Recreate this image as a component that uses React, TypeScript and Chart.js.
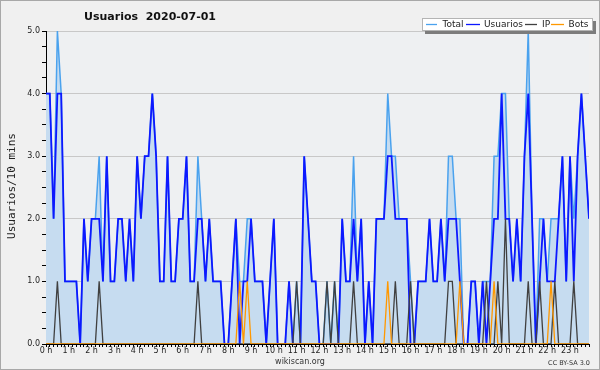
import React, { useEffect, useRef } from 'react';
import { Chart, registerables } from 'chart.js';

Chart.register(...registerables);

// Hour labels (one every 6 ten-minute slots)
const hourLabels = [
  '0 h', '1 h', '2 h', '3 h', '4 h', '5 h', '6 h', '7 h', '8 h', '9 h', '10 h', '11 h',
  '12 h', '13 h', '14 h', '15 h', '16 h', '17 h', '18 h', '19 h', '20 h', '21 h', '22 h', '23 h',
];

const chartTitle = 'Usuarios  2020-07-01';
const yAxisTitle = 'Usuarios/10 mins';
const footerCenter = 'wikiscan.org';
const footerRight = 'CC BY-SA 3.0';

// 144 ten-minute slots
const total = [
  4, 4, 2, 5, 4, 1, 1, 1, 1, 0,
  2, 1, 2, 2, 3, 1, 3, 1, 1, 2,
  2, 1, 2, 1, 3, 2, 3, 3, 4, 3,
  1, 1, 3, 1, 1, 2, 2, 3, 1, 1,
  3, 2, 1, 2, 1, 1, 1, 0, 0, 1,
  2, 1, 1, 2, 2, 1, 1, 1, 0, 1,
  2, 0, 0, 0, 1, 0, 1, 0, 3, 2,
  1, 1, 0, 0, 1, 0, 1, 0, 2, 1,
  1, 3, 1, 2, 0, 1, 0, 2, 2, 2,
  4, 3, 3, 2, 2, 2, 1, 0, 1, 1,
  1, 2, 1, 1, 2, 1, 3, 3, 2, 2,
  0, 0, 1, 1, 0, 1, 1, 1, 3, 3,
  4, 4, 2, 1, 2, 1, 3, 5, 2, 0,
  2, 2, 1, 2, 2, 2, 3, 1, 3, 2,
  3, 4, 3, 2,
];

const usuarios = [
  4, 4, 2, 4, 4, 1, 1, 1, 1, 0,
  2, 1, 2, 2, 2, 1, 3, 1, 1, 2,
  2, 1, 2, 1, 3, 2, 3, 3, 4, 3,
  1, 1, 3, 1, 1, 2, 2, 3, 1, 1,
  2, 2, 1, 2, 1, 1, 1, 0, 0, 1,
  2, 0, 1, 1, 2, 1, 1, 1, 0, 1,
  2, 0, 0, 0, 1, 0, 0, 0, 3, 2,
  1, 1, 0, 0, 0, 0, 0, 0, 2, 1,
  1, 2, 1, 2, 0, 1, 0, 2, 2, 2,
  3, 3, 2, 2, 2, 2, 0, 0, 1, 1,
  1, 2, 1, 1, 2, 1, 2, 2, 2, 1,
  0, 0, 1, 1, 0, 1, 0, 1, 2, 2,
  4, 2, 2, 1, 2, 1, 3, 4, 2, 0,
  1, 2, 1, 1, 1, 2, 3, 1, 3, 1,
  3, 4, 3, 2,
];

const ip = [
  0, 0, 0, 1, 0, 0, 0, 0, 0, 0,
  0, 0, 0, 0, 1, 0, 0, 0, 0, 0,
  0, 0, 0, 0, 0, 0, 0, 0, 0, 0,
  0, 0, 0, 0, 0, 0, 0, 0, 0, 0,
  1, 0, 0, 0, 0, 0, 0, 0, 0, 0,
  0, 0, 0, 0, 0, 0, 0, 0, 0, 0,
  0, 0, 0, 0, 0, 0, 1, 0, 0, 0,
  0, 0, 0, 0, 1, 0, 1, 0, 0, 0,
  0, 1, 0, 0, 0, 0, 0, 0, 0, 0,
  0, 0, 1, 0, 0, 0, 1, 0, 0, 0,
  0, 0, 0, 0, 0, 0, 1, 1, 0, 0,
  0, 0, 0, 0, 0, 0, 1, 0, 0, 1,
  0, 2, 0, 0, 0, 0, 0, 1, 0, 0,
  1, 0, 0, 0, 1, 0, 0, 0, 0, 1,
  0, 0, 0, 0,
];

const bots = [
  0, 0, 0, 0, 0, 0, 0, 0, 0, 0,
  0, 0, 0, 0, 0, 0, 0, 0, 0, 0,
  0, 0, 0, 0, 0, 0, 0, 0, 0, 0,
  0, 0, 0, 0, 0, 0, 0, 0, 0, 0,
  0, 0, 0, 0, 0, 0, 0, 0, 0, 0,
  0, 1, 0, 1, 0, 0, 0, 0, 0, 0,
  0, 0, 0, 0, 0, 0, 0, 0, 0, 0,
  0, 0, 0, 0, 0, 0, 0, 0, 0, 0,
  0, 0, 0, 0, 0, 0, 0, 0, 0, 0,
  1, 0, 0, 0, 0, 0, 0, 0, 0, 0,
  0, 0, 0, 0, 0, 0, 0, 0, 0, 1,
  0, 0, 0, 0, 0, 0, 0, 0, 1, 0,
  0, 0, 0, 0, 0, 0, 0, 0, 0, 0,
  0, 0, 0, 1, 0, 0, 0, 0, 0, 0,
  0, 0, 0, 0,
];

const seriesLabels = ['Total', 'Usuarios', 'IP', 'Bots'];
const seriesColors = ['#4aa2ee', '#0c18ff', '#404040', '#ff9800'];
const totalFill = '#c6dcf0';

export default function App() {
  const ref = useRef<HTMLCanvasElement>(null);

  useEffect(() => {
    document.body.style.margin = '0';
    const canvas = ref.current;
    if (!canvas) return;

    const toPts = (arr: number[]) => arr.map((v, i) => ({ x: i, y: v }));

    const deco = {
      id: 'deco',
      beforeDraw(chart: any) {
        const { ctx, width, height, chartArea: a } = chart;
        ctx.save();
        ctx.fillStyle = '#f0f0f0';
        ctx.fillRect(0, 0, width, height);
        ctx.strokeStyle = '#a8a8a8';
        ctx.lineWidth = 1;
        ctx.strokeRect(0.5, 0.5, width - 1, height - 1);
        ctx.fillStyle = '#eef0f2';
        ctx.fillRect(a.left, a.top, a.right - a.left, a.bottom - a.top);
        ctx.restore();
      },
      afterDraw(chart: any) {
        const { ctx } = chart;
        ctx.save();
        ctx.textBaseline = 'middle';

        // Title
        ctx.font = 'bold 11px "DejaVu Sans"';
        ctx.fillStyle = '#111';
        ctx.textAlign = 'center';
        ctx.fillText(chartTitle, 150, 17);

        // Legend box with shadow
        ctx.fillStyle = '#7c7c7c';
        ctx.fillRect(425, 21, 171, 13);
        ctx.fillStyle = '#ffffff';
        ctx.fillRect(422, 18, 171, 13);
        ctx.strokeStyle = '#b4b4b4';
        ctx.lineWidth = 1;
        ctx.strokeRect(422.5, 18.5, 170, 12);

        const lineX = [[426, 437], [466, 480], [525, 537], [551, 564]];
        const textX = [442.5, 484, 542, 568.5];
        ctx.font = '9px "DejaVu Sans"';
        ctx.textAlign = 'left';
        chart.data.datasets.forEach((ds: any, k: number) => {
          ctx.strokeStyle = ds.borderColor;
          ctx.lineWidth = 1.3;
          ctx.beginPath();
          ctx.moveTo(lineX[k][0], 24.5);
          ctx.lineTo(lineX[k][1], 24.5);
          ctx.stroke();
          ctx.fillStyle = '#222';
          ctx.fillText(ds.label, textX[k], 24.8);
        });

        // Y axis title
        ctx.save();
        ctx.translate(12, 186);
        ctx.rotate(-Math.PI / 2);
        ctx.font = '11px "DejaVu Sans Mono"';
        ctx.textAlign = 'center';
        ctx.fillStyle = '#222';
        ctx.fillText(yAxisTitle, 0, 0);
        ctx.restore();

        // Footers
        ctx.font = '8px "DejaVu Sans"';
        ctx.textAlign = 'center';
        ctx.fillStyle = '#333';
        ctx.fillText(footerCenter, 300, 361.5);
        ctx.font = '6.5px "DejaVu Sans"';
        ctx.textAlign = 'right';
        ctx.fillText(footerRight, 590, 363);

        ctx.restore();
      },
    };

    const seriesData = [total, usuarios, ip, bots];
    const widths = [1.5, 1.8, 1.3, 1.3];

    const chart = new Chart(canvas, {
      type: 'line',
      data: {
        datasets: seriesData.map((arr, k) => ({
          label: seriesLabels[k],
          data: toPts(arr),
          borderColor: seriesColors[k],
          backgroundColor: k === 0 ? totalFill : seriesColors[k],
          fill: k === 0 ? 'origin' : false,
          borderWidth: widths[k],
          pointRadius: 0,
          tension: 0,
          order: 4 - k,
        })),
      },
      options: {
        responsive: false,
        animation: false,
        events: [],
        layout: { padding: { top: 31, right: 11, left: 0, bottom: 0 } },
        plugins: {
          legend: { display: false },
          title: { display: false },
          tooltip: { enabled: false },
        },
        scales: {
          x: {
            type: 'linear',
            min: 0,
            max: 143,
            afterFit: (s: any) => { s.height = 26; },
            ticks: {
              stepSize: 1,
              autoSkip: false,
              maxRotation: 0,
              minRotation: 0,
              padding: -1,
              font: { family: 'DejaVu Sans', size: 8 },
              color: '#222',
              callback: (v: any) => (v % 6 === 0 ? hourLabels[v / 6] ?? '' : ''),
            },
            grid: {
              drawOnChartArea: false,
              tickLength: 3,
              tickColor: '#000',
              lineWidth: 1,
            },
            border: { color: '#000', width: 1 },
          },
          y: {
            type: 'linear',
            min: 0,
            max: 5,
            afterFit: (s: any) => { s.width = 46; },
            ticks: {
              stepSize: 0.25,
              autoSkip: false,
              padding: 2,
              font: { family: 'DejaVu Sans', size: 8 },
              color: '#222',
              callback: (v: any) => (Number.isInteger(v) ? Number(v).toFixed(1) : ''),
            },
            grid: {
              color: (c: any) =>
                c.tick && Number.isInteger(c.tick.value) && c.tick.value > 0 ? '#c8c8c8' : 'rgba(0,0,0,0)',
              tickColor: '#000',
              tickLength: 4,
            },
            border: { color: '#000', width: 1 },
          },
        },
      },
      plugins: [deco],
    } as any);

    return () => chart.destroy();
  }, []);

  return (
    <div style={{ width: 600, height: 370 }}>
      <canvas ref={ref} width={600} height={370} style={{ display: 'block' }} />
    </div>
  );
}
